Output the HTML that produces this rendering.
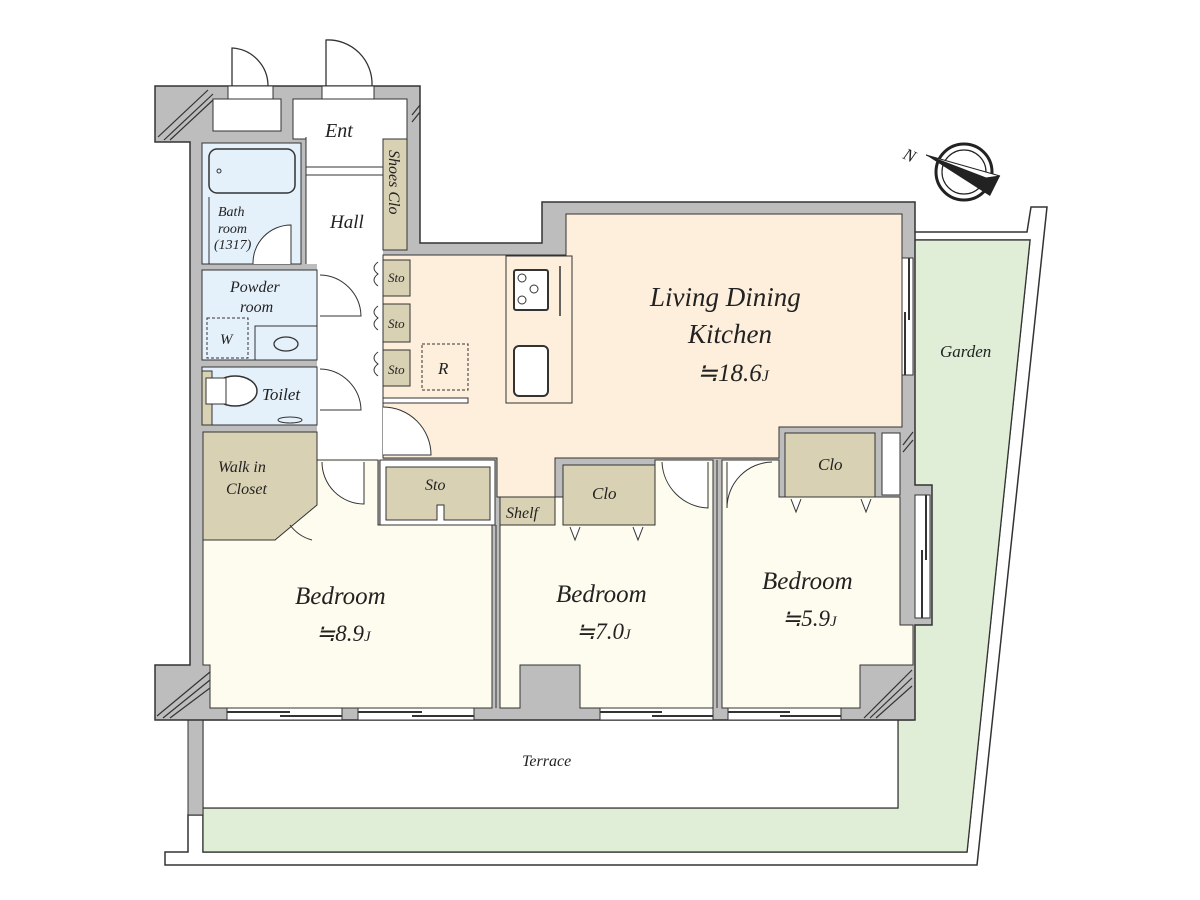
<!DOCTYPE html>
<html><head><meta charset="utf-8"><style>
html,body{margin:0;padding:0;background:#fff;}
svg{display:block;}
text{font-family:"Liberation Serif",serif;font-style:italic;fill:#222;}
</style></head><body>
<svg width="1200" height="900" viewBox="0 0 1200 900" xmlns="http://www.w3.org/2000/svg">
<!-- site boundary -->
<polygon points="165,865 977,865 1047,207 1031,207 1027,232 913,232 913,240 1030,240 967,852 203,852 203,815 188,815 188,852 165,852" fill="#fff" stroke="#333" stroke-width="1.5"/>
<!-- garden -->
<polygon points="913,240 1030,240 967,852 203,852 203,808 898,808 898,720 913,720" fill="#e0eed8" stroke="#333" stroke-width="1.2"/>
<!-- terrace -->
<rect x="203" y="720" width="695" height="88" fill="#fff" stroke="#333" stroke-width="1.2"/>
<rect x="188" y="720" width="15" height="95" fill="#bdbdbd" stroke="#333"/>
<!-- building walls -->
<polygon points="155,86 420,86 420,243 542,243 542,202 915,202 915,485 932,485 932,625 915,625 915,720 155,720 155,665 190,665 190,142 155,142" fill="#bdbdbd" stroke="#333" stroke-width="1.5"/>
<!-- hatch lines -->
<g stroke="#333" stroke-width="1.2">
<line x1="158" y1="137" x2="208" y2="90"/><line x1="164" y1="140" x2="213" y2="94"/><line x1="170" y1="140" x2="213" y2="100"/>
<line x1="157" y1="716" x2="210" y2="672"/><line x1="163" y1="718" x2="210" y2="680"/><line x1="170" y1="718" x2="210" y2="688"/>
<line x1="864" y1="718" x2="912" y2="670"/><line x1="870" y1="718" x2="912" y2="678"/><line x1="876" y1="718" x2="912" y2="686"/>
<line x1="903" y1="445" x2="913" y2="432"/><line x1="903" y1="452" x2="913" y2="440"/>
<line x1="412" y1="115" x2="420" y2="105"/><line x1="412" y1="122" x2="420" y2="112"/>
</g>
<!-- top doors -->
<rect x="213" y="99" width="68" height="32" fill="#fff" stroke="#333"/>
<rect x="228" y="86" width="45" height="13" fill="#fff" stroke="#333"/>
<path d="M232,86 L232,48 A38,38 0 0 1 268,86" fill="none" stroke="#333" stroke-width="1.3"/>
<rect x="322" y="86" width="52" height="13" fill="#fff" stroke="#333"/>
<path d="M326,86 L326,40 A44,44 0 0 1 372,86" fill="none" stroke="#333" stroke-width="1.3"/>
<!-- ent/hall -->
<rect x="293" y="99" width="114" height="40" fill="#fff" stroke="#333"/>
<rect x="306" y="137" width="77" height="127" fill="#fff"/>
<rect x="317" y="250" width="66" height="210" fill="#fff"/>
<line x1="306" y1="137" x2="306" y2="264" stroke="#333"/>
<line x1="306" y1="167" x2="383" y2="167" stroke="#333"/><line x1="306" y1="175" x2="383" y2="175" stroke="#333"/>
<rect x="383" y="139" width="24" height="111" fill="#d9d1b4" stroke="#333"/>
<text transform="translate(389,150) rotate(90)" font-size="16">Shoes Clo</text>
<text x="325" y="137" font-size="20">Ent</text>
<text x="330" y="228" font-size="19">Hall</text>
<!-- bath -->
<rect x="202" y="143" width="99" height="121" fill="#e4f1fb" stroke="#333"/>
<rect x="209" y="149" width="86" height="44" rx="8" fill="#e4f1fb" stroke="#333" stroke-width="1.5"/>
<circle cx="219" cy="171" r="2" fill="none" stroke="#333"/>
<line x1="209" y1="197" x2="209" y2="264" stroke="#333"/>
<text x="218" y="216" font-size="14">Bath</text><text x="218" y="233" font-size="14">room</text><text x="214" y="249" font-size="14">(1317)</text>
<path d="M291,264 L291,225 A38,38 0 0 0 253,264" fill="#fff" stroke="#333"/>
<!-- powder -->
<rect x="202" y="270" width="115" height="90" fill="#e4f1fb" stroke="#333"/>
<text x="230" y="292" font-size="16">Powder</text><text x="240" y="312" font-size="16">room</text>
<rect x="207" y="318" width="41" height="40" fill="none" stroke="#333" stroke-dasharray="3,2"/>
<text x="220" y="344" font-size="15">W</text>
<rect x="255" y="326" width="62" height="34" fill="#e4f1fb" stroke="#333"/>
<ellipse cx="286" cy="344" rx="12" ry="7" fill="none" stroke="#333" stroke-width="1.3"/>
<path d="M320,275 A42,42 0 0 1 361,316 L320,316" fill="#fff" stroke="#333"/>
<!-- toilet -->
<rect x="202" y="367" width="115" height="58" fill="#e4f1fb" stroke="#333"/>
<rect x="202" y="371" width="10" height="54" fill="#d9d1b4" stroke="#333"/>
<ellipse cx="235" cy="391" rx="22" ry="15" fill="#fff" stroke="#333" stroke-width="1.5"/>
<rect x="206" y="378" width="20" height="26" fill="#fff" stroke="#333"/>
<text x="262" y="400" font-size="17">Toilet</text>
<ellipse cx="290" cy="420" rx="12" ry="3" fill="none" stroke="#333"/>
<path d="M320,369 A42,42 0 0 1 361,410 L320,410" fill="#fff" stroke="#333"/>
<!-- LDK -->
<polygon points="383,255 566,255 566,214 902,214 902,427 779,427 779,458 555,458 555,497 497,497 497,458 383,458" fill="#fdefdc" stroke="#333"/>
<rect x="506" y="256" width="66" height="147" fill="#fdefdc" stroke="#333"/>
<rect x="514" y="270" width="34" height="40" rx="2" fill="#fff" stroke="#333" stroke-width="2"/>
<circle cx="522" cy="278" r="4" fill="none" stroke="#333"/><circle cx="534" cy="289" r="4" fill="none" stroke="#333"/><circle cx="522" cy="300" r="4" fill="none" stroke="#333"/>
<line x1="560" y1="266" x2="560" y2="316" stroke="#333" stroke-width="1.5"/>
<rect x="514" y="346" width="34" height="50" rx="5" fill="#fff" stroke="#333" stroke-width="2"/>
<rect x="422" y="344" width="46" height="46" fill="none" stroke="#333" stroke-dasharray="3,2"/>
<text x="438" y="374" font-size="17">R</text>
<rect x="383" y="398" width="85" height="5" fill="#fff" stroke="#333"/>
<text x="650" y="306" font-size="27">Living Dining</text>
<text x="688" y="343" font-size="27">Kitchen</text>
<text x="697" y="381" font-size="25">≒18.6<tspan font-size="16">J</tspan></text>
<!-- stos -->
<rect x="383" y="260" width="27" height="36" fill="#d9d1b4" stroke="#333"/><text x="388" y="282" font-size="13">Sto</text>
<rect x="383" y="304" width="27" height="38" fill="#d9d1b4" stroke="#333"/><text x="388" y="328" font-size="13">Sto</text>
<rect x="383" y="350" width="27" height="36" fill="#d9d1b4" stroke="#333"/><text x="388" y="374" font-size="13">Sto</text>
<path d="M378,262 q-8,6 0,12 q-8,6 0,12 M378,306 q-8,6 0,12 q-8,6 0,12 M378,352 q-8,6 0,12 q-8,6 0,12" fill="none" stroke="#333"/>
<path d="M383,407 A48,48 0 0 1 431,455 L383,455" fill="#fff" stroke="#333"/>
<!-- bedrooms -->
<polygon points="275,540 317,500 317,460 378,460 378,525 492,525 492,708 210,708 210,665 203,665 203,540" fill="#fefcef" stroke="#333"/>
<polygon points="500,525 555,525 555,497 563,497 563,525 655,525 655,460 713,460 713,708 580,708 580,665 520,665 520,708 500,708" fill="#fefcef" stroke="#333"/>
<polygon points="722,460 779,460 779,497 900,497 900,625 913,625 913,665 860,665 860,708 722,708" fill="#fefcef" stroke="#333"/>
<line x1="496" y1="525" x2="496" y2="708" stroke="#333"/><line x1="717" y1="460" x2="717" y2="708" stroke="#333"/>
<!-- WIC -->
<polygon points="203,432 317,432 317,505 275,540 203,540" fill="#d9d1b4" stroke="#333"/>
<text x="218" y="472" font-size="16">Walk in</text><text x="226" y="494" font-size="16">Closet</text>
<path d="M290,525 A40,40 0 0 0 312,540" fill="none" stroke="#333"/>
<path d="M322,462 A42,42 0 0 0 364,504 L364,462" fill="#fff" stroke="#333"/>
<!-- sto/shelf/clo -->
<rect x="380" y="460" width="115" height="65" fill="#fff" stroke="#333"/>
<polygon points="386,467 490,467 490,520 444,520 444,505 437,505 437,520 386,520" fill="#d9d1b4" stroke="#333"/>
<text x="425" y="490" font-size="16">Sto</text>
<rect x="500" y="497" width="55" height="28" fill="#d9d1b4" stroke="#333"/>
<text x="506" y="518" font-size="16">Shelf</text>
<rect x="563" y="465" width="92" height="60" fill="#d9d1b4" stroke="#333"/>
<text x="592" y="499" font-size="17">Clo</text>
<path d="M570,527 l5,13 l5,-13 M633,527 l5,13 l5,-13" fill="#fff" stroke="#333"/>
<path d="M662,462 A48,48 0 0 0 708,508 L708,462" fill="#fff" stroke="#333"/>
<path d="M772,462 A46,46 0 0 0 727,508 L727,462" fill="#fff" stroke="#333"/>
<rect x="785" y="433" width="90" height="64" fill="#d9d1b4" stroke="#333"/>
<text x="818" y="470" font-size="17">Clo</text>
<path d="M791,499 l5,13 l5,-13 M861,499 l5,13 l5,-13" fill="#fff" stroke="#333"/>
<rect x="882" y="433" width="18" height="62" fill="#fff" stroke="#333"/>
<!-- windows -->
<g fill="#fff" stroke="#333">
<rect x="227" y="708" width="115" height="12"/><rect x="358" y="708" width="116" height="12"/>
<rect x="600" y="708" width="113" height="12"/><rect x="728" y="708" width="113" height="12"/>
<rect x="902" y="258" width="11" height="117"/><rect x="915" y="495" width="15" height="123"/>
</g>
<g stroke="#333" stroke-width="2">
<line x1="227" y1="712" x2="290" y2="712"/><line x1="280" y1="716" x2="342" y2="716"/>
<line x1="358" y1="712" x2="422" y2="712"/><line x1="412" y1="716" x2="474" y2="716"/>
<line x1="600" y1="712" x2="662" y2="712"/><line x1="652" y1="716" x2="713" y2="716"/>
<line x1="728" y1="712" x2="790" y2="712"/><line x1="780" y1="716" x2="841" y2="716"/>
<line x1="909" y1="258" x2="909" y2="320"/><line x1="905" y1="312" x2="905" y2="375"/>
<line x1="926" y1="495" x2="926" y2="560"/><line x1="922" y1="550" x2="922" y2="618"/>
</g>
<text x="295" y="604" font-size="25">Bedroom</text>
<text x="316" y="641" font-size="23">≒8.9<tspan font-size="15">J</tspan></text>
<text x="556" y="602" font-size="25">Bedroom</text>
<text x="576" y="639" font-size="23">≒7.0<tspan font-size="15">J</tspan></text>
<text x="762" y="589" font-size="25">Bedroom</text>
<text x="782" y="626" font-size="23">≒5.9<tspan font-size="15">J</tspan></text>
<text x="522" y="766" font-size="16">Terrace</text>
<text x="940" y="357" font-size="17">Garden</text>
<!-- compass -->
<circle cx="964" cy="172" r="28" fill="#fff" stroke="#222" stroke-width="3"/>
<circle cx="964" cy="172" r="22" fill="none" stroke="#222" stroke-width="1.2"/>
<polygon points="926,155 1000,176 990,196" fill="#222"/>
<polygon points="926,155 1000,176 986,178" fill="#fff" stroke="#222"/>
<text transform="translate(902,158) rotate(25)" font-size="17">N</text>
</svg>
</body></html>
